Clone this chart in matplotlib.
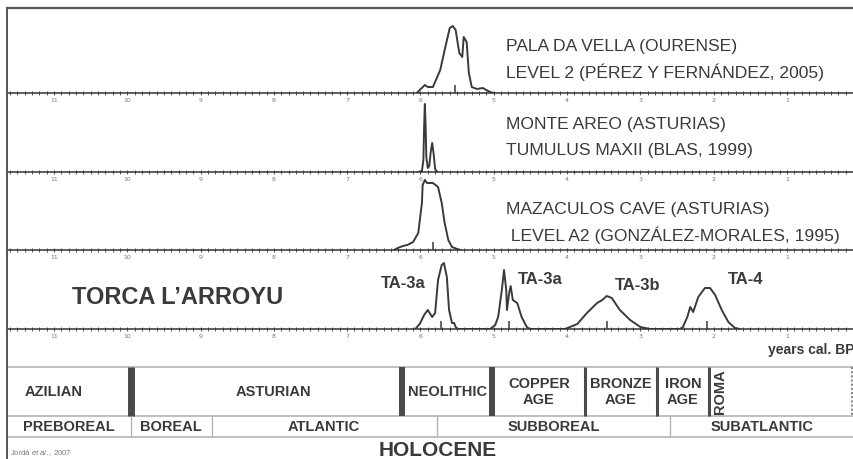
import matplotlib.pyplot as plt
from matplotlib.ticker import MultipleLocator

# calibrated ages (ka cal BP) and curve heights (px above the baseline)
pala_age = [6.05, 6.01, 5.94, 5.90, 5.83, 5.73, 5.67, 5.60, 5.56, 5.52, 5.47, 5.43, 5.41,
            5.37, 5.34, 5.30, 5.23, 5.15, 5.05, 5.00]
pala_p = [0, 3, 8, 6, 6, 23, 43, 65, 67, 63, 40, 36, 56, 51, 20, 6, 4, 5, 1, 0]

areo_age = [6.03, 5.98, 5.96, 5.95, 5.94, 5.93, 5.92, 5.90, 5.88, 5.86, 5.84, 5.82, 5.80, 5.77]
areo_p = [0, 1, 12, 45, 68, 48, 15, 4, 6, 20, 29, 18, 3, 0]

maza_age = [6.36, 6.31, 6.24, 6.18, 6.10, 6.03, 5.98, 5.97, 5.94, 5.91, 5.83, 5.76, 5.71,
            5.67, 5.62, 5.57, 5.50, 5.45]
maza_p = [0, 2, 4, 5, 8, 17, 47, 65, 70, 67, 67, 63, 47, 27, 10, 3, 1, 0]

torca_age = [6.07, 6.01, 5.95, 5.90, 5.84, 5.80, 5.76, 5.71, 5.68, 5.64, 5.61, 5.57, 5.54,
             5.52, 5.49, 5.05, 4.98, 4.94, 4.89, 4.86, 4.83, 4.82, 4.79, 4.77, 4.74, 4.68,
             4.62, 4.55, 4.51, 4.03, 3.96, 3.86, 3.73, 3.59, 3.52, 3.46, 3.39, 3.28, 3.14,
             3.00, 2.87, 2.46, 2.42, 2.36, 2.32, 2.28, 2.21, 2.12, 2.05, 1.98, 1.89, 1.80,
             1.71, 1.64]
torca_p = [0, 5, 14, 19, 12, 16, 49, 64, 66, 52, 19, 6, 6, 2, 0, 0, 4, 12, 39, 59, 39, 19,
           36, 43, 29, 26, 12, 2, 0, 0, 2, 5, 16, 26, 29, 33, 31, 19, 9, 2, 0, 0, 2, 12, 22,
           17, 32, 41, 41, 34, 19, 7, 1, 0]

pala_med = [5.53]
maza_med = [5.83]
torca_med = [5.72, 4.79, 3.46, 2.09]

site_lines = [
    ["PALA DA VELLA (OURENSE)", "LEVEL 2 (PÉREZ Y FERNÁNDEZ, 2005)"],
    ["MONTE AREO (ASTURIAS)", "TUMULUS MAXII (BLAS, 1999)"],
    ["MAZACULOS CAVE (ASTURIAS)", " LEVEL A2 (GONZÁLEZ-MORALES, 1995)"],
]
ta_labels = ["TA-3a", "TA-3a", "TA-3b", "TA-4"]
ta_label_age = [6.24, 4.37, 3.03, 1.57]

periods = ["AZILIAN", "ASTURIAN", "NEOLITHIC", "COPPER\nAGE", "BRONZE\nAGE", "IRON\nAGE", "ROMA"]
period_label_age = [11.0, 8.01, 5.635, 4.385, 3.265, 2.42, 1.91]
period_bounds = [9.95, 6.25, 5.02, 3.75, 2.78, 2.06]
climates = ["PREBOREAL", "BOREAL", "ATLANTIC", "SUBBOREAL", "SUBATLANTIC"]
climate_bounds = [11.64, 9.95, 8.85, 5.78, 2.59, 0.086]

W, H = 854, 459
AGE_L, AGE_R = 11.64, 0.086
INK = '#3a3a3a'
GRID = '#b4b4b4'
FONT = ['Liberation Sans', 'DejaVu Sans']

plt.rcParams['mathtext.fontset'] = 'custom'
plt.rcParams['mathtext.rm'] = 'Liberation Sans'
plt.rcParams['mathtext.it'] = 'Liberation Sans:italic'

fig = plt.figure(figsize=(W / 100, H / 100), dpi=100)


def px_axes(x0, y0, x1, y1):
    return fig.add_axes([x0 / W, 1 - y1 / H, (x1 - x0) / W, (y1 - y0) / H])


def panel(y0, y1, top=False):
    ax = px_axes(7, y0, W, y1)
    ax.set_xlim(AGE_L, AGE_R)
    ax.set_ylim(0, y1 - y0)
    ax.spines['right'].set_visible(False)
    ax.spines['top'].set_visible(top)
    ax.spines['top'].set_linewidth(1.6)
    ax.spines['top'].set_color('#555555')
    ax.spines['left'].set_linewidth(1.4)
    ax.spines['left'].set_color('#555555')
    ax.spines['bottom'].set_linewidth(1.1)
    ax.spines['bottom'].set_color('#333333')
    ax.xaxis.set_major_locator(MultipleLocator(1))
    ax.xaxis.set_minor_locator(MultipleLocator(0.1))
    ax.tick_params(axis='x', which='major', direction='inout', length=3.5, width=0.8,
                   colors='#555555', labelsize=4.5, pad=2, labelcolor='#777777')
    ax.tick_params(axis='x', which='minor', direction='inout', length=2.2, width=0.7,
                   colors='#555555')
    ax.set_xticks(range(1, 12))
    ax.set_xticklabels([str(i) for i in range(1, 12)])
    ax.set_yticks([])
    ax.patch.set_alpha(0)
    return ax


panel_rows = [(8, 93, pala_age, pala_p, pala_med),
              (93, 172, areo_age, areo_p, []),
              (172, 250, maza_age, maza_p, maza_med),
              (250, 329, torca_age, torca_p, torca_med)]
site_y = [(46, 21), (47, 21), (40, 15)]

axes = []
for i, (y0, y1, ages, probs, meds) in enumerate(panel_rows):
    ax = panel(y0, y1, top=(i == 0))
    ax.plot(ages, probs, color=INK, lw=1.4, solid_joinstyle='round')
    if meds:
        ax.vlines(meds, 0, 8, color=INK, lw=1.1)
    if i < 3:
        for line, yy in zip(site_lines[i], site_y[i]):
            ax.text(4.83, yy, line, fontsize=12.6, family=FONT, color=INK,
                    ha='left', va='center')
    axes.append(ax)

ax4 = axes[3]
ax4.text(9.31, 32, "TORCA L’ARROYU", fontsize=17, family=FONT, weight='bold',
         color=INK, ha='center', va='center')
for lab, a, yy in zip(ta_labels, ta_label_age, [45, 49, 44, 49]):
    ax4.text(a, yy, lab, fontsize=12, family=FONT, weight='bold', color=INK,
             ha='center', va='center')

# chronology table
tb = px_axes(7, 329, W, H)
tb.set_xlim(AGE_L, AGE_R)
tb.set_ylim(H, 329)
for s in ['top', 'right', 'bottom']:
    tb.spines[s].set_visible(False)
tb.spines['left'].set_linewidth(1.4)
tb.spines['left'].set_color('#555555')
tb.set_xticks([])
tb.set_yticks([])
tb.patch.set_alpha(0)

tb.text(AGE_R, 350, "years cal. BP", fontsize=10, family=FONT, weight='bold',
        color=INK, ha='right', va='center')

for yy in [367, 416, 437]:
    tb.axhline(yy, color=GRID, lw=1.2)

widths = [5, 4.3, 4.3, 2.2, 2.2, 2.2]
for b, lw in zip(period_bounds, widths):
    tb.vlines(b, 367, 416, color='#4a4a4a', lw=lw)
tb.vlines(0.12, 367, 416, color='#888888', lw=1.5, linestyles=(0, (1, 1)))

for name, a in zip(periods, period_label_age):
    if name == "ROMA":
        tb.text(a, 392, name, fontsize=10.5, family=FONT, weight='bold', color=INK,
                rotation=90, ha='center', va='center')
    else:
        tb.text(a, 392, name, fontsize=10.5, family=FONT, weight='bold', color=INK,
                ha='center', va='center', linespacing=1.25)

for b in climate_bounds[1:-1]:
    tb.vlines(b, 416, 437, color=GRID, lw=1.0)
for name, a0, a1 in zip(climates, climate_bounds[:-1], climate_bounds[1:]):
    tb.text((a0 + a1) / 2, 427, name, fontsize=10.5, family=FONT, weight='bold',
            color=INK, ha='center', va='center')

tb.text(5.77, 451, "HOLOCENE", fontsize=15, family=FONT, weight='bold', color=INK,
        ha='center', va='center')
tb.text(11.6, 453, "Jordá $\\it{et\\ al.}$, 2007", fontsize=5.5, family=FONT,
        color='#777777', ha='left', va='center')

fig.savefig("out.png", dpi=100)
